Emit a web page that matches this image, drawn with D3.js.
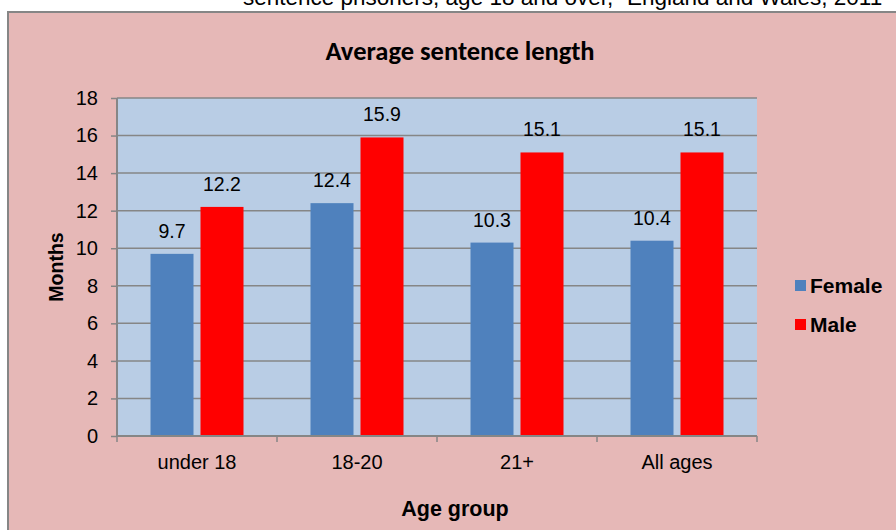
<!DOCTYPE html>
<html>
<head>
<meta charset="utf-8">
<script src="https://cdn.jsdelivr.net/npm/d3@7"></script>
<style>
  body { margin: 0; background: #fff; }
  text { font-family: Arial, "Liberation Sans", sans-serif; }
</style>
</head>
<body>
<div id="chart"></div>
<script>
const width = 896, height = 530;

// data
const categories = ["under 18", "18-20", "21+", "All ages"];
const seriesNames = ["Female", "Male"];
const female = [9.7, 12.4, 10.3, 10.4];
const male = [12.2, 15.9, 15.1, 15.1];
const yTicks = [0, 2, 4, 6, 8, 10, 12, 14, 16, 18];
const colors = ["#4F81BD", "#FF0000"];

const svg = d3.select("#chart").append("svg")
  .attr("width", width)
  .attr("height", height);

// heading text cut off at top of the image
svg.append("text")
  .attr("x", 243).attr("y", 5)
  .attr("font-size", 22.5)
  .attr("fill", "#000")
  .text("sentence prisoners, age 18 and over,\u00B9 England and Wales, 2011");

// chart area frame
svg.append("rect")
  .attr("x", 8).attr("y", 12)
  .attr("width", 900).attr("height", 530)
  .attr("fill", "#E6B8B7")
  .attr("stroke", "#868686")
  .attr("stroke-width", 2);

const plot = { left: 117, right: 757, top: 98, bottom: 436 };

const x = d3.scaleBand().domain(categories).range([plot.left, plot.right]);
const y = d3.scaleLinear().domain([0, 18]).range([plot.bottom, plot.top]);

// plot background
svg.append("rect")
  .attr("x", plot.left).attr("y", plot.top)
  .attr("width", plot.right - plot.left)
  .attr("height", plot.bottom - plot.top)
  .attr("fill", "#B9CDE5");

// gridlines
svg.selectAll(".grid")
  .data(yTicks.filter(d => d > 0))
  .enter().append("line")
  .attr("x1", plot.left).attr("x2", plot.right)
  .attr("y1", d => y(d)).attr("y2", d => y(d))
  .attr("stroke", "#868686")
  .attr("stroke-width", 1.5);

// bars
const barW = 43, gap = 7;
const groups = [female, male];
groups.forEach((vals, si) => {
  const off = si === 0 ? -(barW + gap / 2) : gap / 2;
  svg.selectAll(".bar" + si)
    .data(vals)
    .enter().append("rect")
    .attr("x", (d, i) => x(categories[i]) + x.bandwidth() / 2 + off)
    .attr("y", d => y(d))
    .attr("width", barW)
    .attr("height", d => y(0) - y(d))
    .attr("fill", colors[si]);

  svg.selectAll(".lbl" + si)
    .data(vals)
    .enter().append("text")
    .attr("x", (d, i) => x(categories[i]) + x.bandwidth() / 2 + off + barW / 2)
    .attr("y", d => y(d) - 16)
    .attr("text-anchor", "middle")
    .attr("font-size", 19.5)
    .text(d => d.toFixed(1));
});

// y axis
const yAxis = svg.append("g")
  .attr("transform", `translate(${plot.left},0)`)
  .call(d3.axisLeft(y).tickValues(yTicks).tickSize(6).tickPadding(13));
yAxis.selectAll("text").attr("font-size", 20).attr("fill", "#000");
yAxis.selectAll("line").attr("stroke", "#868686").attr("stroke-width", 1.5);
yAxis.select(".domain").attr("stroke", "#868686").attr("stroke-width", 2).attr("d", `M0,${plot.top}V${plot.bottom}`);

// x axis
const xAxis = svg.append("g")
  .attr("transform", `translate(0,${plot.bottom})`)
  .call(d3.axisBottom(x).tickSize(0).tickPadding(19));
xAxis.selectAll("text").attr("font-size", 20).attr("fill", "#000");
xAxis.select(".domain").attr("stroke", "#868686").attr("stroke-width", 2).attr("d", `M${plot.left},0H${plot.right}`);
xAxis.selectAll(".sep")
  .data(d3.range(categories.length + 1))
  .enter().append("line")
  .attr("x1", i => plot.left + i * x.step()).attr("x2", i => plot.left + i * x.step())
  .attr("y1", 0).attr("y2", 6)
  .attr("stroke", "#868686").attr("stroke-width", 1.5);

// title
svg.append("text")
  .attr("x", 460).attr("y", 60)
  .attr("text-anchor", "middle")
  .attr("font-weight", "bold")
  .attr("font-size", 26.5)
  .style("font-family", "Carlito, 'Open Sans', sans-serif")
  .text("Average sentence length");

// axis titles
svg.append("text")
  .attr("x", 455).attr("y", 516)
  .attr("text-anchor", "middle")
  .attr("font-weight", "bold")
  .attr("font-size", 21.5)
  .text("Age group");

svg.append("text")
  .attr("transform", "translate(63,267) rotate(-90)")
  .attr("text-anchor", "middle")
  .attr("font-weight", "bold")
  .attr("font-size", 19.5)
  .text("Months");

// legend
const legend = svg.selectAll(".legend")
  .data(seriesNames)
  .enter().append("g")
  .attr("transform", (d, i) => `translate(795,${280 + i * 39})`);
legend.append("rect")
  .attr("width", 11).attr("height", 11)
  .attr("fill", (d, i) => colors[i]);
legend.append("text")
  .attr("x", 15).attr("y", 13)
  .attr("font-weight", "bold")
  .attr("font-size", 21)
  .text(d => d);
</script>
</body>
</html>
